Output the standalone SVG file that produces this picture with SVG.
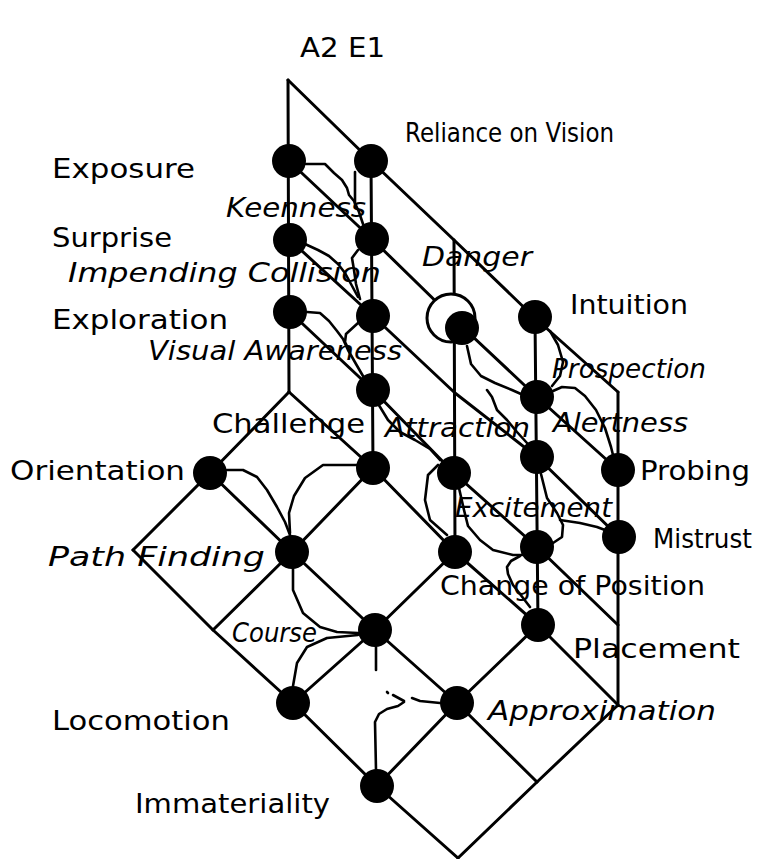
<svg xmlns="http://www.w3.org/2000/svg" width="770" height="859" viewBox="0 0 770 859">
<style>
.e{stroke:#000;stroke-width:3;fill:none;stroke-linejoin:round;stroke-linecap:round}
.c{stroke:#000;stroke-width:2.6;fill:none;stroke-linejoin:round;stroke-linecap:round}
.n{fill:#000}
.o{fill:#fff;stroke:#000;stroke-width:3}
text{font-family:"DejaVu Sans","Liberation Sans",sans-serif;font-size:27px;fill:#000}
.i{font-style:italic}
</style>
<rect width="770" height="859" fill="#fff"/>
<g id="connectors">
<!-- verticals -->
<polyline class="e" points="288,80 289,392"/>
<polyline class="e" points="371,160 373,468"/>
<polyline class="e" points="454,240 455,552"/>
<polyline class="e" points="535,318 538,625"/>
<polyline class="e" points="618,392 618,705"/>
<!-- down-right diagonals -->
<polyline class="e" points="288,80 371,161 454,240 535,318 618,392"/>
<polyline class="e" points="289,161 372,239 455,320 537,397 618,470"/>
<polyline class="e" points="290,240 373,316 455,393 537,457 619,537"/>
<polyline class="e" points="290,312 373,390 454,473 537,547 618,625"/>
<polyline class="e" points="289,392 373,468 455,552 538,625 618,705"/>
<polyline class="e" points="210,473 292,552 375,630 457,703 537,782"/>
<polyline class="e" points="133,550 213,630 293,703 377,786 458,858"/>
<!-- down-left diagonals -->
<polyline class="e" points="289,392 210,473 133,550"/>
<polyline class="e" points="373,468 292,552 213,630"/>
<polyline class="e" points="455,552 375,630 293,703"/>
<polyline class="e" points="538,625 457,703 377,786"/>
<polyline class="e" points="618,705 537,782 458,858"/>
<!-- hand-drawn curves -->
<path class="c" d="M306,164 L325,164 L334,173 L342,180 L347,188 L349,195 L354,201 L359,212 L363,224"/>
<path class="c" d="M355,172 L355,204"/>
<path class="c" d="M305,244 L318,250 L329,256 L338,264 L345,273 L351,284 L358,297"/>
<path class="c" d="M358,250 L352,258 L354,270 L356,284 L360,299"/>
<path class="c" d="M307,312 L320,313 L329,321 L337,331 L343,339 L348,350 L356,364 L363,376"/>
<path class="c" d="M358,323 L346,334 L345,342 L350,352"/>
<path class="c" d="M377,402 L388,420 L400,432 L415,440 L430,449 L440,460"/>
<path class="c" d="M227,470 L243,470 L257,477 L267,490 L277,507 L285,522 L290,535"/>
<path class="c" d="M358,465 L323,465 L305,478 L294,496 L289,513 L290,533"/>
<path class="c" d="M293,568 L293,590 L303,613 L320,627 L337,632 L358,633"/>
<path class="c" d="M358,635 L327,638 L307,647 L297,663 L293,686"/>
<path class="c" d="M376,647 L376,670"/>
<path class="c" d="M376,770 L375,722 L379,714 L387,709 L398,706 L404,702"/>
<path class="c" d="M393,695 L404,701"/>
<path class="c" d="M387,692 L388,693"/>
<path class="c" d="M412,698 L420,701 L440,703" stroke-width="3.5"/>
<path class="c" d="M438,465 L428,475 L425,500 L430,520 L447,535"/>
<path class="c" d="M459,488 L464,510 L468,526 L480,540 L493,550 L513,555 L522,555"/>
<path class="c" d="M541,474 L547,498 L557,513 L563,525 L562,537 L553,543"/>
<path class="c" d="M560,520 L580,523 L597,527 L605,530"/>
<path class="c" d="M520,556 L511,561 L507,567 L508,574 L513,585 L520,594 L530,607"/>
<path class="c" d="M467,346 L471,364 L481,376 L495,383 L512,390 L521,394"/>
<path class="c" d="M550,331 L558,345 L563,362 L560,376 L552,386"/>
<path class="c" d="M553,391 L562,387 L575,388 L585,396 L596,410 L605,428 L611,447 L613,455"/>
<path class="c" d="M487,390 L492,397 L497,410 L507,420 L517,432 L527,443 L532,449"/>
</g>
<text id="title" x="300" y="57" textLength="85" lengthAdjust="spacingAndGlyphs">A2 E1</text>
<g id="n-exposure"><circle class="n" cx="289" cy="161" r="17"/><text x="52" y="178" textLength="143" lengthAdjust="spacingAndGlyphs">Exposure</text></g>
<g id="n-reliance"><circle class="n" cx="371" cy="161" r="17"/><text x="405" y="142" textLength="209" lengthAdjust="spacingAndGlyphs">Reliance on Vision</text></g>
<g id="n-keenness"><circle class="n" cx="372" cy="239" r="17"/><text class="i" x="226" y="217" textLength="140" lengthAdjust="spacingAndGlyphs">Keenness</text></g>
<g id="n-surprise"><circle class="n" cx="290" cy="240" r="17"/><text x="52" y="247" textLength="120" lengthAdjust="spacingAndGlyphs">Surprise</text></g>
<g id="n-impending"><circle class="n" cx="373" cy="316" r="17"/><text class="i" x="68" y="282" textLength="313" lengthAdjust="spacingAndGlyphs">Impending Collision</text></g>
<g id="n-danger"><circle class="o" cx="451" cy="318" r="24"/><circle class="n" cx="462" cy="328" r="17"/><text class="i" x="422" y="266" textLength="110" lengthAdjust="spacingAndGlyphs">Danger</text></g>
<g id="n-exploration"><circle class="n" cx="290" cy="312" r="17"/><text x="52" y="329" textLength="176" lengthAdjust="spacingAndGlyphs">Exploration</text></g>
<g id="n-visual"><circle class="n" cx="373" cy="390" r="17"/><text class="i" x="148" y="360" textLength="254" lengthAdjust="spacingAndGlyphs">Visual Awareness</text></g>
<g id="n-intuition"><circle class="n" cx="535" cy="317" r="17"/><text x="570" y="314" textLength="118" lengthAdjust="spacingAndGlyphs">Intuition</text></g>
<g id="n-prospection"><circle class="n" cx="537" cy="397" r="17"/><text class="i" x="552" y="378" textLength="154" lengthAdjust="spacingAndGlyphs">Prospection</text></g>
<g id="n-challenge"><circle class="n" cx="373" cy="468" r="17"/><text x="212" y="433" textLength="153" lengthAdjust="spacingAndGlyphs">Challenge</text></g>
<g id="n-attraction"><circle class="n" cx="454" cy="473" r="17"/><text class="i" x="385" y="437" textLength="145" lengthAdjust="spacingAndGlyphs">Attraction</text></g>
<g id="n-alertness"><circle class="n" cx="537" cy="457" r="17"/><text class="i" x="553" y="432" textLength="135" lengthAdjust="spacingAndGlyphs">Alertness</text></g>
<g id="n-orientation"><circle class="n" cx="210" cy="473" r="17"/><text x="10" y="480" textLength="175" lengthAdjust="spacingAndGlyphs">Orientation</text></g>
<g id="n-probing"><circle class="n" cx="618" cy="470" r="17"/><text x="640" y="480" textLength="110" lengthAdjust="spacingAndGlyphs">Probing</text></g>
<g id="n-excitement"><circle class="n" cx="537" cy="547" r="17"/><text class="i" x="455" y="517" textLength="157" lengthAdjust="spacingAndGlyphs">Excitement</text></g>
<g id="n-mistrust"><circle class="n" cx="619" cy="537" r="17"/><text x="653" y="548" textLength="99" lengthAdjust="spacingAndGlyphs">Mistrust</text></g>
<g id="n-pathfinding"><circle class="n" cx="292" cy="552" r="17"/><text class="i" x="48" y="566" textLength="217" lengthAdjust="spacingAndGlyphs">Path Finding</text></g>
<g id="n-changeofposition"><circle class="n" cx="455" cy="552" r="17"/><text x="440" y="595" textLength="265" lengthAdjust="spacingAndGlyphs">Change of Position</text></g>
<g id="n-course"><circle class="n" cx="375" cy="630" r="17"/><text class="i" x="232" y="642" textLength="85" lengthAdjust="spacingAndGlyphs">Course</text></g>
<g id="n-placement"><circle class="n" cx="538" cy="625" r="17"/><text x="573" y="658" textLength="167" lengthAdjust="spacingAndGlyphs">Placement</text></g>
<g id="n-locomotion"><circle class="n" cx="293" cy="703" r="17"/><text x="52" y="730" textLength="178" lengthAdjust="spacingAndGlyphs">Locomotion</text></g>
<g id="n-approximation"><circle class="n" cx="457" cy="703" r="17"/><text class="i" x="488" y="720" textLength="228" lengthAdjust="spacingAndGlyphs">Approximation</text></g>
<g id="n-immateriality"><circle class="n" cx="377" cy="786" r="17"/><text x="135" y="813" textLength="195" lengthAdjust="spacingAndGlyphs">Immateriality</text></g>
</svg>
